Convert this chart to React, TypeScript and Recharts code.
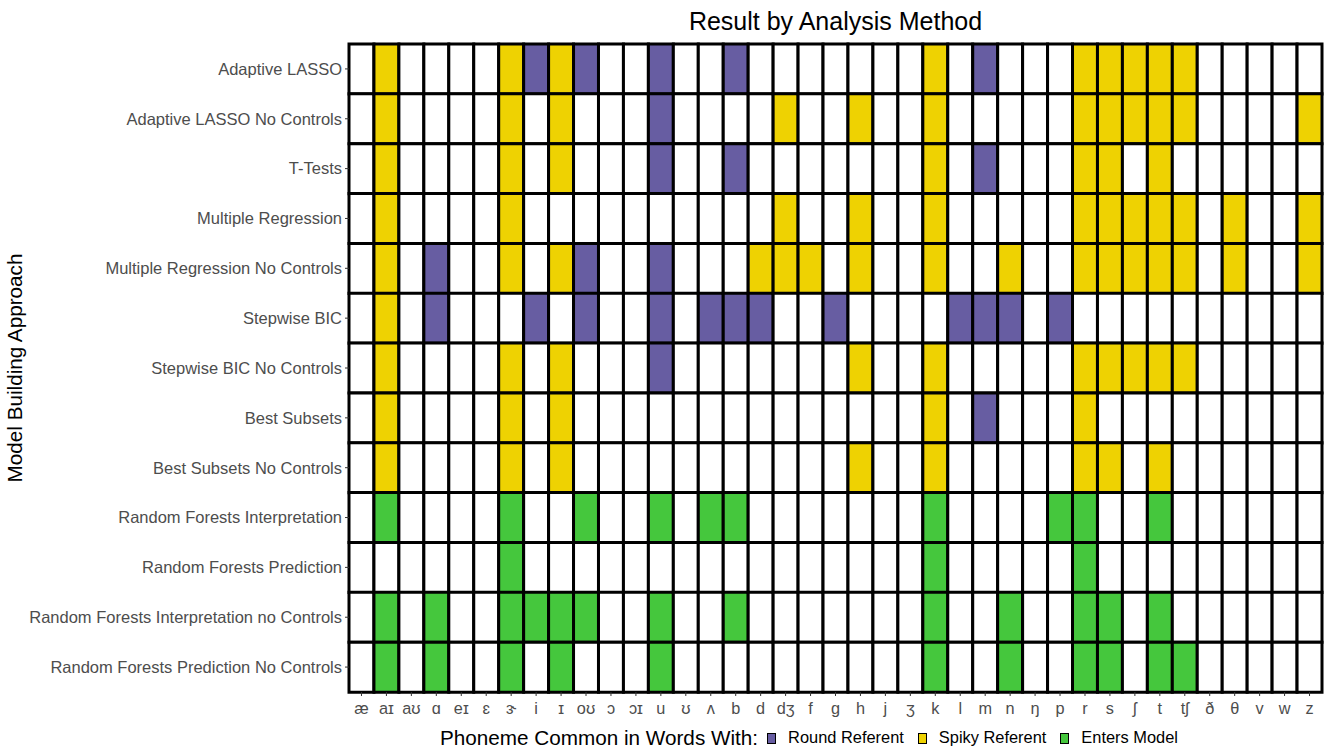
import { Bar, BarChart, Cell, Legend, XAxis, YAxis } from "recharts"

const FONT = '"Liberation Sans", Arial, Helvetica, sans-serif'

const PHONEMES = [
  "æ", "aɪ", "aʊ", "ɑ", "eɪ", "ɛ", "ɝ", "i", "ɪ", "oʊ", "ɔ", "ɔɪ", "u", "ʊ", "ʌ",
  "b", "d", "dʒ", "f", "g", "h", "j", "ʒ", "k", "l", "m", "n", "ŋ", "p", "r", "s",
  "ʃ", "t", "tʃ", "ð", "θ", "v", "w", "z",
]

const METHODS = [
  "Adaptive LASSO",
  "Adaptive LASSO No Controls",
  "T-Tests",
  "Multiple Regression",
  "Multiple Regression No Controls",
  "Stepwise BIC",
  "Stepwise BIC No Controls",
  "Best Subsets",
  "Best Subsets No Controls",
  "Random Forests Interpretation",
  "Random Forests Prediction",
  "Random Forests Interpretation no Controls",
  "Random Forests Prediction No Controls",
]

// one string per method, one char per phoneme
// R = round referent, S = spiky referent, E = enters model, . = nothing
const RESULTS = [
  ".S....SRSR" + "..R..R...." + "...S.R...S" + "SSSS.....",
  ".S....S.S." + "..R....S.." + "S..S.....S" + "SSSS....S",
  ".S....S.S." + "..R..R...." + "...S.R...S" + "S.S......",
  ".S....S..." + ".......S.." + "S..S.....S" + "SSSS.S..S",
  ".S.R..S.SR" + "..R...SSS." + "S..S..S..S" + "SSSS.S..S",
  ".S.R...R.R" + "..R.RRR..R" + "....RRR.R." + ".........",
  ".S....S.S." + "..R......." + "S..S.....S" + "SSSS.....",
  ".S....S.S." + ".........." + "...S.R...S" + ".........",
  ".S....S.S." + ".........." + "S..S.....S" + "S.S......",
  ".E....E..E" + "..E.EE...." + "...E....EE" + "..E......",
  "......E..." + ".........." + "...E.....E" + ".........",
  ".E.E..EEEE" + "..E..E...." + "...E..E..E" + "E.E......",
  ".E.E..E.E." + "..E......." + "...E..E..E" + "E.EE.....",
]

const LEGEND_ITEMS = [
  { key: "R", label: "Round Referent" },
  { key: "S", label: "Spiky Referent" },
  { key: "E", label: "Enters Model" },
]

const FILL: Record<string, string> = {
  R: "#675da2",
  S: "#eed202",
  E: "#45c73d",
  ".": "#ffffff",
}

const rows = METHODS.map((method) => {
  const row: Record<string, string | number> = { method }
  PHONEMES.forEach((_, c) => {
    row[`c${c}`] = 1
  })
  return row
})

const xTicks = PHONEMES.map((_, i) => i + 0.5)

function LegendRow() {
  return (
    <div
      style={{
        display: "flex",
        alignItems: "center",
        height: 30,
        boxSizing: "border-box",
        paddingLeft: 440,
        paddingTop: 8,
        fontFamily: FONT,
        color: "#000",
      }}
    >
      <span style={{ fontSize: 20.7, lineHeight: "21px", marginRight: 9 }}>Phoneme Common in Words With:</span>
      {LEGEND_ITEMS.map((it) => (
        <span key={it.key} style={{ display: "flex", alignItems: "center" }}>
          <span
            style={{
              width: 7,
              height: 9,
              border: "1.5px solid #000",
              background: FILL[it.key],
              marginRight: 12,
              marginTop: 2,
            }}
          />
          <span style={{ fontSize: 16.4, lineHeight: "17px", marginRight: 14 }}>{it.label}</span>
        </span>
      ))}
    </div>
  )
}

export default function App() {
  return (
    <div
      style={{
        position: "absolute",
        left: 0,
        top: 0,
        width: 1326,
        height: 748,
        background: "#fff",
        fontFamily: FONT,
      }}
    >
      <div
        style={{
          position: "absolute",
          left: 349,
          width: 973,
          top: 7,
          textAlign: "center",
          fontSize: 25,
          lineHeight: "28px",
          color: "#000",
        }}
      >
        Result by Analysis Method
      </div>
      <BarChart
        width={1326}
        height={748}
        data={rows}
        layout="vertical"
        margin={{ top: 44, right: 4, bottom: 0, left: 0 }}
        barCategoryGap={0}
        barGap={0}
      >
        <XAxis
          type="number"
          domain={[0, PHONEMES.length]}
          ticks={xTicks}
          interval={0}
          tickFormatter={(v: number) => PHONEMES[Math.floor(v)]}
          axisLine={false}
          tickSize={4}
          tickMargin={6}
          height={26}
          tick={{ fill: "#4d4d4d", fontSize: 16.3 }}
          tickLine={{ stroke: "#333" }}
        />
        <YAxis
          type="category"
          dataKey="method"
          width={349}
          interval={0}
          axisLine={false}
          tickSize={4}
          tickMargin={3}
          tick={{ fill: "#4d4d4d", fontSize: 16.5 }}
          tickLine={{ stroke: "#333" }}
          label={{
            value: "Model Building Approach",
            angle: -90,
            position: "insideLeft",
            dx: 10,
            style: { textAnchor: "middle", fontSize: 20.7, fill: "#000" },
          }}
        />
        {PHONEMES.map((p, c) => (
          <Bar
            key={p}
            dataKey={`c${c}`}
            stackId="grid"
            stroke="#000"
            strokeWidth={3}
            isAnimationActive={false}
          >
            {METHODS.map((m, r) => (
              <Cell key={m} fill={FILL[RESULTS[r][c]]} />
            ))}
          </Bar>
        ))}
        <Legend
          verticalAlign="bottom"
          align="left"
          wrapperStyle={{ left: 0, width: 1326, height: 30 }}
          content={() => <LegendRow />}
        />
      </BarChart>
    </div>
  )
}
